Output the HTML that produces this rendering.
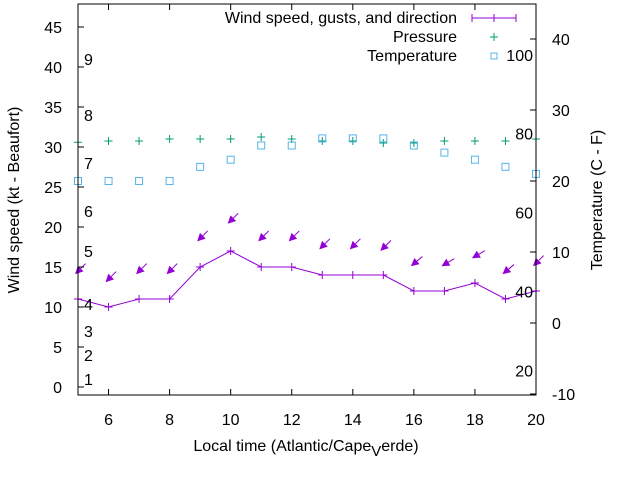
<!DOCTYPE html>
<html><head><meta charset="utf-8"><style>
body{margin:0;background:#fff}
svg{font-family:"Liberation Sans",sans-serif;font-size:16px}
</style></head><body>
<svg id="c" width="640" height="480" xmlns="http://www.w3.org/2000/svg">
<rect width="640" height="480" fill="#fff"/>
<g id="marks"></g>
<rect x="78" y="4" width="458" height="391" fill="none" stroke="#000"/>
<g id="axes"></g>
<text transform="translate(19,200) rotate(-90)" text-anchor="middle">Wind speed (kt - Beaufort)</text>
<text transform="translate(602,200) rotate(-90)" text-anchor="middle">Temperature (C - F)</text>
<text x="306" y="451" text-anchor="middle">Local time (Atlantic/Cape<tspan dy="5" font-size="15">V</tspan><tspan dy="-5">erde)</tspan></text>
<g>
<text x="457" y="23" text-anchor="end">Wind speed, gusts, and direction</text>
<line x1="472" y1="18" x2="516" y2="18" stroke="#9400d3"/>
<line x1="472" y1="14" x2="472" y2="22" stroke="#9400d3"/><line x1="494" y1="14" x2="494" y2="22" stroke="#9400d3"/><line x1="516" y1="14" x2="516" y2="22" stroke="#9400d3"/>
<text x="457" y="42" text-anchor="end">Pressure</text>
<path d="M490 37h8M494 33v8" stroke="#009e73"/>
<text x="457" y="61" text-anchor="end">Temperature</text>
<rect x="491" y="53" width="6" height="6" fill="none" stroke="#56b4e9"/>
</g>
</svg>
<script>
const hours=[5,6,7,8,9,10,11,12,13,14,15,16,17,18,19,20];
const wind=[11,10,11,11,15,17,15,15,14,14,14,12,12,13,11,12];
const gusts=[14.6,13.6,14.6,14.6,18.7,20.9,18.7,18.7,17.7,17.7,17.5,15.6,15.6,16.6,14.6,15.6];
const dirs=[45,45,45,45,45,45,45,45,45,45,45,40,30,30,40,45];
const pressure=[30.6,30.75,30.75,31,31,31,31.25,31,30.75,30.75,30.5,30.5,30.75,30.75,30.75,31];
const temperature=[20,20,20,20,22,23,25,25,26,26,26,25,24,23,22,21];
const xTicks=[6,8,10,12,14,16,18,20];
const yTicks=[0,5,10,15,20,25,30,35,40,45];
const y2Ticks=[-10,0,10,20,30,40];
const beaufort=[1,2,3,4,5,6,7,8,9];
const beaufortY=[1,4,7,10.4,17,22,28,34,41];
const fahr=[20,40,60,80,100];
const X=h=>78+(h-5)*458/15;
const Y=v=>387-v*8;
const Y2=t=>323-t*7.1;
const NS="http://www.w3.org/2000/svg";
const marks=document.getElementById('marks'),axes=document.getElementById('axes');
function mk(tag,attrs,parent){const e=document.createElementNS(NS,tag);for(const k in attrs)e.setAttribute(k,attrs[k]);parent.appendChild(e);return e;}
xTicks.forEach(h=>{const x=X(h);
 const t=mk('path',{d:`M${x} 395v-6M${x} 4v6`,stroke:'#000'},axes);
 
 
 const l=mk('text',{x:x,y:425,'text-anchor':'middle'},axes);l.textContent=h;
 
 });
yTicks.forEach(v=>{const y=Y(v);
 const t=mk('path',{d:`M78 ${y}h6`,stroke:'#000'},axes);
 
 
 const l=mk('text',{x:62,y:y+6,'text-anchor':'end'},axes);l.textContent=v;
 
 });
y2Ticks.forEach(v=>{const y=Y2(v);
 const t=mk('path',{d:`M536 ${y}h-6`,stroke:'#000'},axes);
 
 
 const l=mk('text',{x:552,y:y+6},axes);l.textContent=v;
 
 });
beaufort.forEach((b,i)=>{const l=mk('text',{x:84,y:Y(beaufortY[i])+6},axes);l.textContent=b;
 
 });
fahr.forEach(f=>{const c=(f-32)*5/9;const l=mk('text',{x:533,y:Y2(c)+6,'text-anchor':'end'},axes);l.textContent=f;
 
 });
hours.forEach((h,i)=>{const x=X(h),y=Y(pressure[i]);
 const p=mk('path',{d:`M${x-4} ${y}h8M${x} ${y-4}v8`,stroke:'#009e73'},marks);
 
 });
hours.forEach((h,i)=>{const x=X(h),y=Y2(temperature[i]);
 const r=mk('rect',{x:x-3.5,y:y-3.5,width:7,height:7,fill:'none',stroke:'#56b4e9'},marks);
 
 });
const wl=mk('polyline',{points:hours.map((h,i)=>X(h)+','+Y(wind[i])).join(' '),fill:'none',stroke:'#9400d3'},marks);


hours.forEach((h,i)=>{const x=X(h),y=Y(wind[i]);
 const p=mk('path',{d:`M${x-4} ${y}h8M${x} ${y-4}v8`,stroke:'#9400d3'},marks);
 
 });
hours.forEach((h,i)=>{const x=X(h)-3,y=Y(gusts[i])+4;const a=dirs[i]*Math.PI/180;
 const dx=Math.cos(a),dy=-Math.sin(a),L=15;
 const tx=x+dx*L,ty=y+dy*L;
 const px=-dy,py=dx;
 const bx=x+dx*8,by=y+dy*8;
 const g=mk('g',{},marks);
 
 
 mk('line',{x1:tx,y1:ty,x2:bx,y2:by,stroke:'#9400d3'},g);
 mk('polygon',{points:`${x},${y} ${bx+px*4},${by+py*4} ${bx-px*4},${by-py*4}`,fill:'#9400d3'},g);});
</script>
</body></html>
